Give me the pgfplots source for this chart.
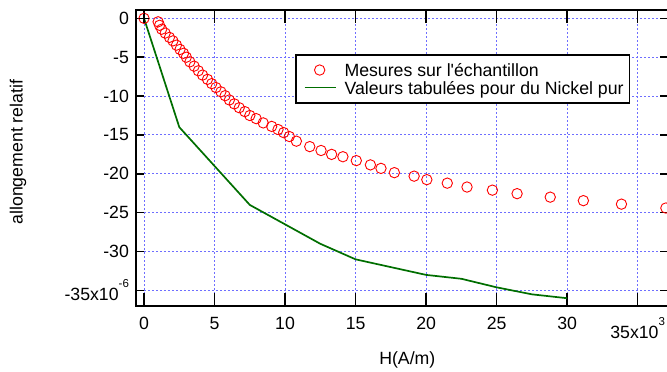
\documentclass[border=0pt]{standalone}
\usepackage{fontspec}
\setmainfont{Liberation Sans}
\usepackage{pgfplots}
\pgfplotsset{compat=1.18}
\definecolor{dg}{RGB}{0,110,0}
\definecolor{gridblue}{RGB}{110,110,255}
\newcommand\sups[1]{\raisebox{13pt}{\fontsize{11.5}{12}\selectfont #1}}
\newcommand\myfont{\fontsize{17.7}{20}\selectfont}
\pgfplotsset{
  redimg/.style={legend image code/.code={\path (0pt,0pt) (36pt,0pt); \draw[##1, line width=0.9pt] plot coordinates {(20pt,0pt)};}},
  greenimg/.style={legend image code/.code={\path (0pt,0pt) (36pt,0pt); \draw[##1, line width=1.7pt] (5pt,0pt) -- (36pt,0pt);}},
}
\begin{document}
\myfont
\begin{tikzpicture}[x=1pt,y=1pt]
\begin{axis}[
  at={(0pt,0pt)}, anchor=south west,
  scale only axis, width=532pt, height=296pt,
  xmin=-0.57, xmax=37.15, ymin=-37, ymax=1.07,
  xtick={0,5,...,35},
  xticklabels={0,5,10,15,20,25,30,35x10\sups{3}},
  ytick={-35,-30,...,0},
  yticklabels={-35x10\sups{-6},-30,-25,-20,-15,-10,-5,0},
  tick align=inside,
  major tick length=8pt,
  xtick style={/pgfplots/major tick length=13pt},
  tick style={black, line width=1.5pt},
  axis line style={black, line width=1.5pt},
  grid=major,
  grid style={gridblue, dash pattern=on 2pt off 2pt, line width=0.9pt},
  tick label style={font=\myfont},
  x tick label style={yshift=-5pt},
  y tick label style={xshift=-1pt},
  label style={font=\myfont},
  xlabel={H(A/m)},
  ylabel={allongement relatif},
  every axis x label/.style={at={([yshift=-54pt]axis description cs:0.51,0)}, anchor=center},
  every axis y label/.style={at={([xshift=-118pt]axis description cs:0,0.52)}, anchor=center, rotate=90},
  legend cell align=left,
  legend style={at={(axis description cs:0.2989,0.8514)}, anchor=north west,
    draw=black, line width=1.6pt, font=\myfont,
    inner xsep=3pt, inner ysep=6.5pt, column sep=5pt, row sep=0pt,
    nodes={inner xsep=3pt, inner ysep=0.5pt, text height=15pt, text depth=1.5pt}},
]
\addplot[only marks, mark=o, mark size=5.2pt, red, line width=0.9pt, redimg]
coordinates {
(0,0) (1.0,-0.45) (1.1,-0.9) (1.25,-1.4) (1.5,-1.9) (1.8,-2.45) (2.05,-2.9)
(2.3,-3.45) (2.55,-4.0) (2.8,-4.5) (3.0,-5.0) (3.25,-5.6) (3.55,-6.15)
(3.85,-6.75) (4.15,-7.3) (4.5,-7.85) (4.8,-8.4) (5.1,-8.9) (5.45,-9.45)
(5.75,-9.95) (6.05,-10.5) (6.4,-11.0) (6.75,-11.5) (7.15,-12.0) (7.5,-12.5)
(7.95,-12.9) (8.45,-13.45) (9.05,-13.9) (9.5,-14.3) (9.9,-14.7) (10.3,-15.2)
(10.8,-15.8) (11.75,-16.5) (12.55,-17.0) (13.3,-17.5) (14.1,-17.8) (15.05,-18.3)
(16.05,-18.85) (16.8,-19.3) (17.75,-19.85) (19.15,-20.3) (20.05,-20.75)
(21.5,-21.2) (22.9,-21.7) (24.7,-22.1) (26.45,-22.55) (28.8,-23.0)
(31.15,-23.45) (33.85,-23.9) (37.0,-24.4)
};
\addlegendentry{Mesures sur l\textquotesingle échantillon}
\addplot[dg, line width=1.7pt, mark=none, greenimg]
coordinates {
(0,0) (2.5,-14) (7.5,-24) (10,-26.5) (12.5,-29) (15,-31) (20,-33)
(22.5,-33.5) (25,-34.6) (27.5,-35.5) (30,-36.0)
};
\addlegendentry{Valeurs tabulées pour du Nickel pur}
\addplot[only marks, black, mark=+, mark size=5pt, line width=1pt, forget plot]
coordinates {(0,0)};
\end{axis}
\pgfresetboundingbox
\useasboundingbox (-136pt,-66pt) rectangle (531pt,306pt);
\end{tikzpicture}
\end{document}
